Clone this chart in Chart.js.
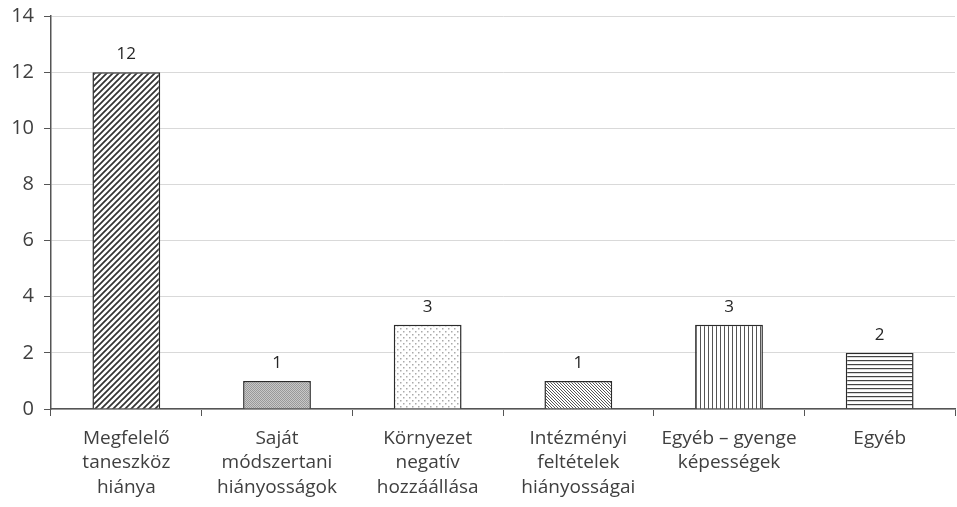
<!DOCTYPE html>
<html><head><meta charset="utf-8">
<script src="https://cdn.jsdelivr.net/npm/chart.js@4/dist/chart.umd.min.js"></script>
<style>html,body{margin:0;padding:0;background:#fff}#wrap{width:957px;height:507px}</style>
</head><body><div id="wrap"><canvas id="c" width="957" height="507"></canvas></div>
<script>
const categories = [
  ["Megfelelő","taneszköz","hiánya"],
  ["Saját","módszertani","hiányosságok"],
  ["Környezet","negatív","hozzáállása"],
  ["Intézményi","feltételek","hiányosságai"],
  ["Egyéb – gyenge","képességek"],
  ["Egyéb"]
];
const values = [12, 1, 3, 1, 3, 2];
const yTicks = [0, 2, 4, 6, 8, 10, 12, 14];

function mk(w, h, draw){
  const c = document.createElement('canvas'); c.width = w; c.height = h;
  const g = c.getContext('2d'); g.fillStyle = '#fff'; g.fillRect(0,0,w,h);
  draw(g); return g.createPattern(c, 'repeat');
}
const patterns = [
  mk(6,6,g=>{g.strokeStyle='#333';g.lineWidth=1.7;g.beginPath();
    for(let k=-1;k<=1;k++){g.moveTo(k*6-1,7);g.lineTo(k*6+7,-1);} g.stroke();}),
  mk(2,2,g=>{g.fillStyle='#999';g.fillRect(0,0,1,1);g.fillRect(1,1,1,1);g.fillStyle='#c8c8c8';g.fillRect(1,0,1,1);g.fillRect(0,1,1,1);}),
  mk(6,6,g=>{g.fillStyle='#aaa';g.fillRect(1,1,1.5,1.5);g.fillRect(4,4,1.5,1.5);}),
  mk(3,3,g=>{g.strokeStyle='#555';g.lineWidth=1;g.beginPath();
    for(let k=-1;k<=1;k++){g.moveTo(k*3-1,-1);g.lineTo(k*3+4,4);} g.stroke();}),
  mk(4,4,g=>{g.fillStyle='#555';g.fillRect(0,0,1,4);}),
  mk(4,4,g=>{g.fillStyle='#444';g.fillRect(0,0,4,1.2);})
];

const labelPlugin = {
  id:'vals',
  afterDatasetsDraw(chart){
    const c = chart.ctx; const meta = chart.getDatasetMeta(0);
    c.save(); c.fillStyle='#262626'; c.font='17px "Open Sans"'; c.textAlign='center'; c.textBaseline='bottom';
    meta.data.forEach((b,i)=>{ c.fillText(String(values[i]), b.x, b.y-9); });
    c.restore();
  }
};

new Chart(document.getElementById('c'), {
  type:'bar',
  data:{labels:categories, datasets:[{data:values, backgroundColor:patterns, borderColor:'#2b2b2b', borderWidth:1.5, barPercentage:0.45, categoryPercentage:1}]},
  options:{
    responsive:false, animation:false,
    layout:{padding:{top:16,right:2,left:0,bottom:0}},
    plugins:{legend:{display:false}, tooltip:{enabled:false}},
    scales:{
      x:{
        grid:{offset:true, drawOnChartArea:false, tickLength:7, color:'#555', tickWidth:1},
        border:{color:'#555', width:1.5},
        ticks:{color:'#3f3f3f', font:{family:'"Open Sans"', size:19, lineHeight:1.3}, maxRotation:0, autoSkip:false, padding:10},
        afterFit(s){ s.height = 98; s.paddingLeft = 0; s.paddingRight = 0; }
      },
      y:{
        min:0, max:14,
        afterBuildTicks(s){ s.ticks = yTicks.map(v=>({value:v})); },
        grid:{color:'#d9d9d9', tickColor:'#555', tickLength:7, lineWidth:1},
        border:{color:'#555', width:1.5},
        ticks:{color:'#3f3f3f', font:{family:'"Open Sans"', size:20}, padding:10},
        afterFit(s){ s.width = 51; s.paddingTop = 0; s.paddingBottom = 0; }
      }
    }
  },
  plugins:[labelPlugin]
});
</script></body></html>
